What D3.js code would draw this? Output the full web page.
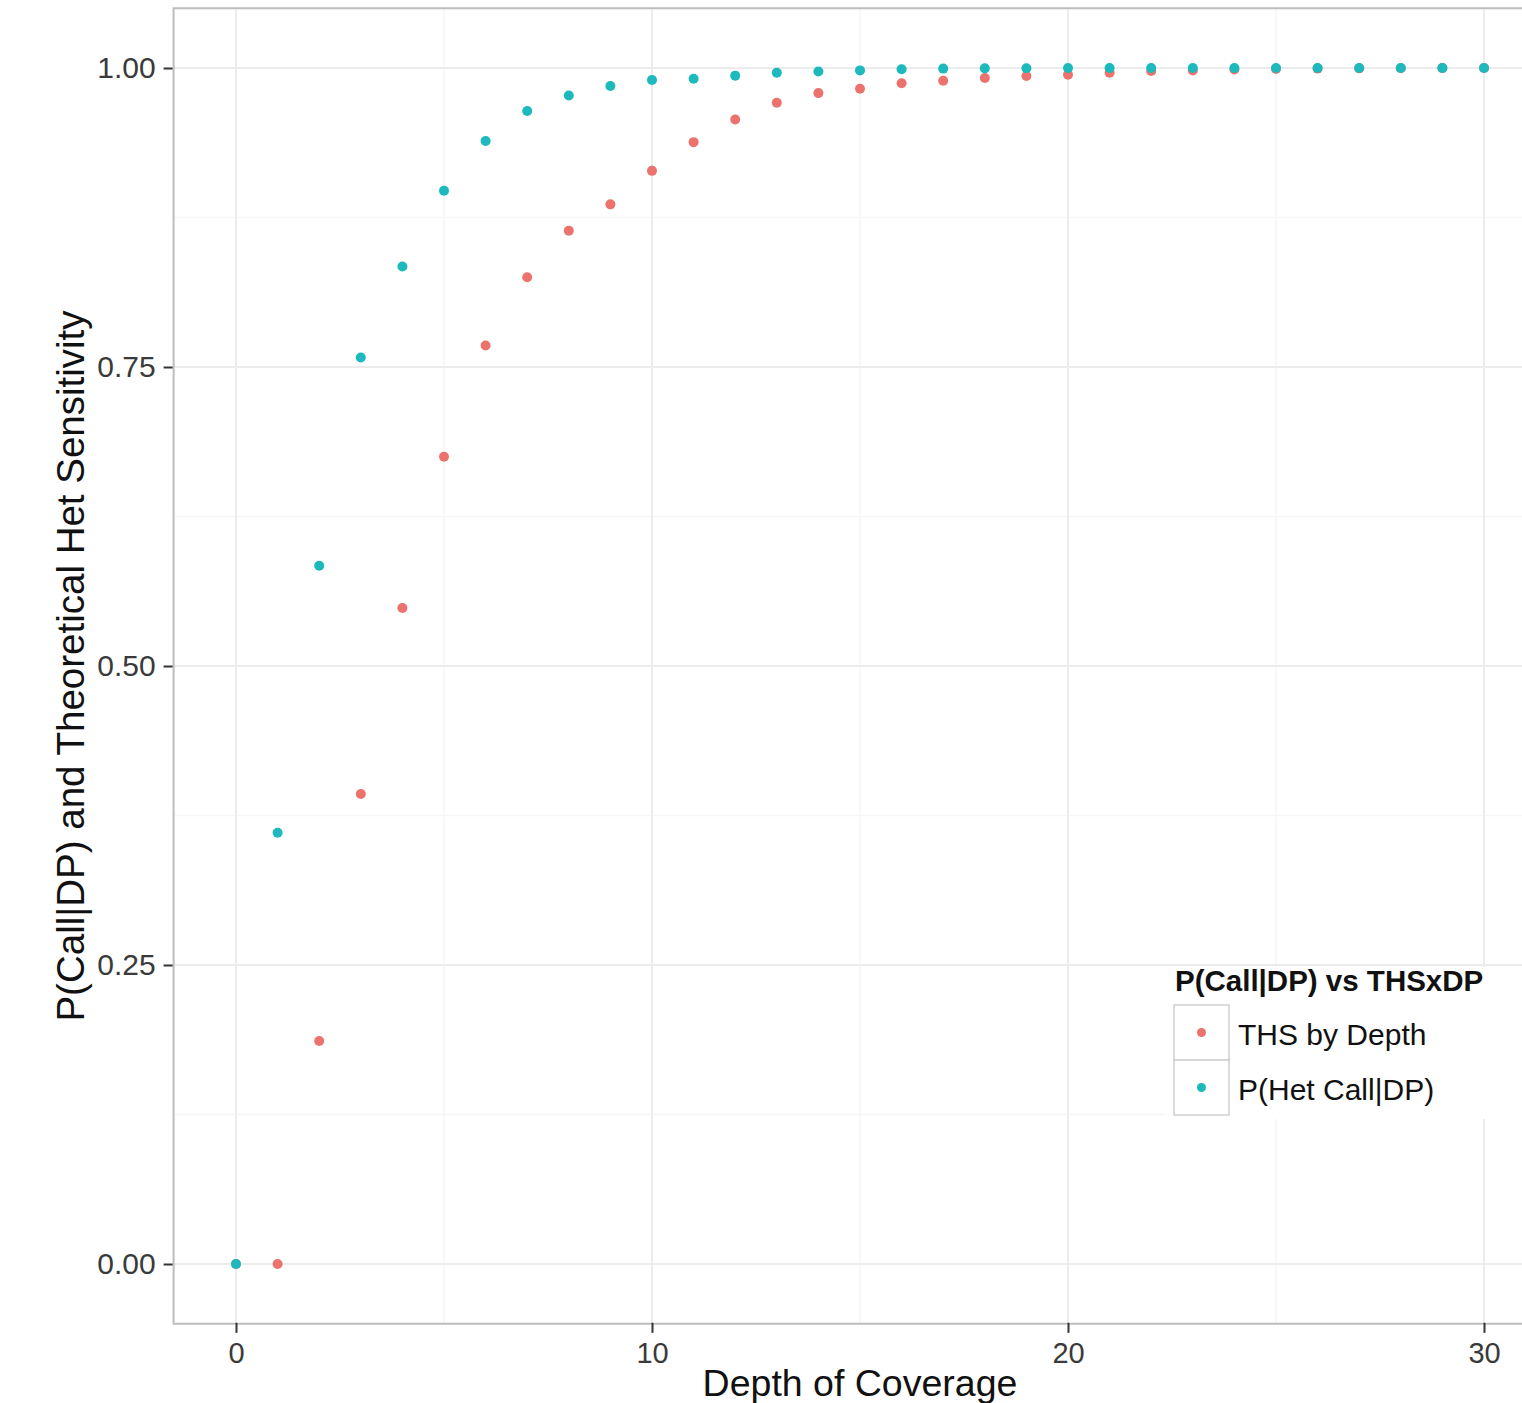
<!DOCTYPE html>
<html>
<head>
<meta charset="utf-8">
<script src="https://cdn.jsdelivr.net/npm/d3@7"></script>
<style>
  body { margin: 0; background: #fff; }
  svg { display: block; font-family: "Liberation Sans", Arial, sans-serif; }
</style>
</head>
<body>
<svg id="chart"></svg>
<script>
// Chart size, same as the window.
const WIDTH = 1522;
const HEIGHT = 1403;

// Values.
const depth = [0, 1, 2, 3, 4, 5, 6, 7, 8, 9, 10, 11, 12, 13, 14, 15,
  16, 17, 18, 19, 20, 21, 22, 23, 24, 25, 26, 27, 28, 29, 30];
const thsByDepth = [0, 0, 0.1865, 0.393, 0.5485, 0.675, 0.768, 0.825, 0.864,
  0.886, 0.914, 0.938, 0.957, 0.971, 0.979, 0.9827, 0.9872, 0.9894, 0.9916,
  0.9933, 0.9944, 0.9961, 0.9975, 0.998, 0.9988, 0.9992, 0.9995, 0.9997,
  0.9998, 0.9999, 1];
const pHetCall = [0, 0.3606, 0.5838, 0.758, 0.834, 0.8974, 0.939, 0.964,
  0.977, 0.985, 0.990, 0.991, 0.9936, 0.996, 0.997, 0.998, 0.999, 0.9995,
  0.9997, 0.9998, 1, 1, 1, 1, 1, 1, 1, 1, 1, 1, 1];

const seriesNames = ['THS by Depth', 'P(Het Call|DP)'];
const seriesColors = ['#ec736d', '#1cb9bd'];
const xTicks = [0, 10, 20, 30];
const xMinor = [5, 15, 25];
const yTicks = [0, 0.25, 0.5, 0.75, 1];
const yMinor = [0.125, 0.375, 0.625, 0.875];

const legendTitle = 'P(Call|DP) vs THSxDP';
const xTitle = 'Depth of Coverage';
const yTitle = 'P(Call|DP) and Theoretical Het Sensitivity';

const svg = d3.select('#chart')
  .attr('width', WIDTH)
  .attr('height', HEIGHT);

// ggplot style 5% padding round the data range
const x = d3.scaleLinear().domain([-1.5, 31.5]).range([173.6, 1546.4]);
const y = d3.scaleLinear().domain([-0.05, 1.05]).range([1323.8, 8.2]);

const panel = svg.append('g').attr('class', 'panel');

panel.selectAll('line.xminor')
  .data(xMinor)
  .join('line')
  .attr('x1', d => x(d)).attr('x2', d => x(d))
  .attr('y1', y(1.05)).attr('y2', y(-0.05))
  .attr('stroke', '#f6f6f6').attr('stroke-width', 1.5);

panel.selectAll('line.yminor')
  .data(yMinor)
  .join('line')
  .attr('y1', d => y(d)).attr('y2', d => y(d))
  .attr('x1', x(-1.5)).attr('x2', WIDTH)
  .attr('stroke', '#f6f6f6').attr('stroke-width', 1.5);

panel.selectAll('line.xmajor')
  .data(xTicks)
  .join('line')
  .attr('x1', d => x(d)).attr('x2', d => x(d))
  .attr('y1', y(1.05)).attr('y2', y(-0.05))
  .attr('stroke', '#ececec').attr('stroke-width', 2);

panel.selectAll('line.ymajor')
  .data(yTicks)
  .join('line')
  .attr('y1', d => y(d)).attr('y2', d => y(d))
  .attr('x1', x(-1.5)).attr('x2', WIDTH)
  .attr('stroke', '#ececec').attr('stroke-width', 2);

// points, red series first so the cyan one sits on top
const series = [thsByDepth, pHetCall];
series.forEach((vals, i) => {
  panel.append('g')
    .selectAll('circle')
    .data(depth)
    .join('circle')
    .attr('cx', d => x(d))
    .attr('cy', (d, j) => y(vals[j]))
    .attr('r', 5)
    .attr('fill', seriesColors[i]);
});

// panel border (right edge falls outside the picture)
svg.append('path')
  .attr('d', `M${WIDTH},${y(1.05)}H${x(-1.5)}V${y(-0.05)}H${WIDTH}`)
  .attr('fill', 'none')
  .attr('stroke', '#bdbdbd')
  .attr('stroke-width', 2);

// axes
const xAxis = svg.append('g')
  .attr('transform', `translate(0,${y(-0.05) - 1})`)
  .call(d3.axisBottom(x).tickValues(xTicks).tickSize(10).tickPadding(10)
    .tickFormat(d3.format('d')));
xAxis.select('.domain').remove();
xAxis.selectAll('line').attr('stroke', '#333').attr('stroke-width', 2);
xAxis.selectAll('text')
  .attr('font-size', 29).attr('fill', '#3a3a3a')
  .attr('font-family', '"Liberation Sans", Arial, sans-serif');

const yAxis = svg.append('g')
  .attr('transform', `translate(${x(-1.5) - 1},0)`)
  .call(d3.axisLeft(y).tickValues(yTicks).tickSize(9).tickPadding(8)
    .tickFormat(d3.format('.2f')));
yAxis.select('.domain').remove();
yAxis.selectAll('line').attr('stroke', '#333').attr('stroke-width', 2);
yAxis.selectAll('text')
  .attr('font-size', 30).attr('fill', '#3a3a3a')
  .attr('font-family', '"Liberation Sans", Arial, sans-serif');

// axis titles
svg.append('text')
  .attr('x', (x(-1.5) + x(31.5)) / 2)
  .attr('y', 1396)
  .attr('text-anchor', 'middle')
  .attr('font-size', 37.5)
  .attr('fill', '#111')
  .text(xTitle);

svg.append('text')
  .attr('transform', `translate(84,${y(0.5)}) rotate(-90)`)
  .attr('text-anchor', 'middle')
  .attr('font-size', 38.5)
  .attr('fill', '#111')
  .text(yTitle);

// legend
const legend = svg.append('g').attr('class', 'legend');
legend.append('rect')
  .attr('x', 1166).attr('y', 967)
  .attr('width', WIDTH - 1166).attr('height', 152)
  .attr('fill', '#fff');
legend.append('text')
  .attr('x', 1175).attr('y', 991)
  .attr('font-size', 29.5)
  .attr('font-weight', 'bold')
  .attr('fill', '#111')
  .text(legendTitle);

const keys = legend.selectAll('g.key')
  .data(seriesNames)
  .join('g')
  .attr('class', 'key')
  .attr('transform', (d, i) => `translate(1174,${1005 + i * 55})`);
keys.append('rect')
  .attr('width', 55).attr('height', 55)
  .attr('fill', '#fff')
  .attr('stroke', '#cfcfcf')
  .attr('stroke-width', 1.5);
keys.append('circle')
  .attr('cx', 27.5).attr('cy', 27.5).attr('r', 4.5)
  .attr('fill', (d, i) => seriesColors[i]);
keys.append('text')
  .attr('x', 64).attr('y', 39.5)
  .attr('font-size', 30)
  .attr('fill', '#111')
  .text(d => d);
</script>
</body>
</html>
